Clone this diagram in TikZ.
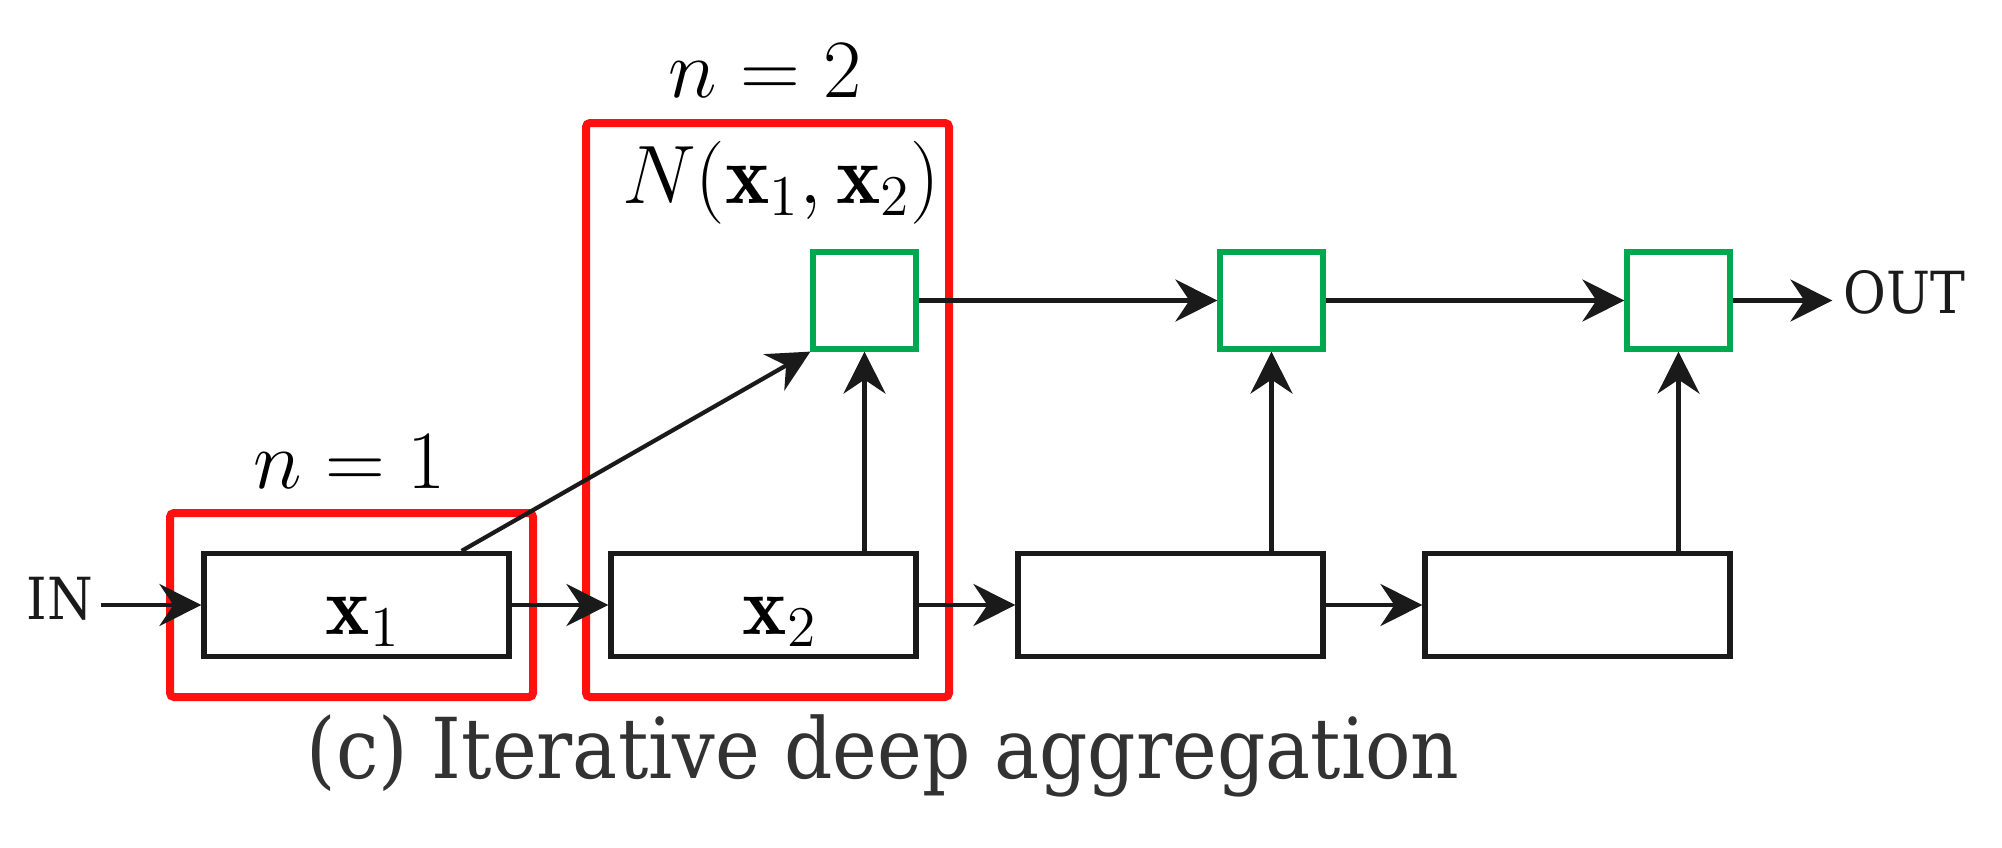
\documentclass[tikz,border=0pt]{standalone}
\usepackage{amsmath}
\usepackage{fontspec}
\newfontfamily\capfont{DejaVu Serif}
\usetikzlibrary{arrows.meta,calc}
\definecolor{redbox}{RGB}{255,17,17}
\definecolor{greenbox}{RGB}{0,168,80}
\definecolor{ink}{RGB}{26,26,26}
\definecolor{captext}{RGB}{50,50,50}
\begin{document}
\begin{tikzpicture}[x=0.25pt,y=-0.25pt,
  blk/.style={draw=ink,line width=1.3pt,minimum width=76.25pt,minimum height=25.75pt,inner sep=0pt},
  agg/.style={draw=greenbox,line width=1.3pt,minimum width=25.75pt,minimum height=24.25pt,inner sep=0pt},
  conn/.style={draw=ink,line width=1.05pt,-{Stealth[length=10.5pt,width=10.5pt,inset=3.5pt]}},
  hl/.style={draw=redbox,line width=2pt,rounded corners=1pt},
  lbl/.style={inner sep=0pt,anchor=base},
  mathlbl/.style={lbl,font=\fontsize{21pt}{25pt}\selectfont},
  serlbl/.style={lbl,font=\capfont\fontsize{14.5pt}{17pt}\selectfont,text=ink},
  ]
\useasboundingbox (0,0) rectangle (2002,847);
% bottom blocks
\node[blk] (b1) at (356.5,605) {};
\node[blk] (b2) at (763.5,605) {};
\node[blk] (b3) at (1170.5,605) {};
\node[blk] (b4) at (1577.5,605) {};
% aggregation nodes
\node[agg] (g1) at (864.5,300.5) {};
\node[agg] (g2) at (1271.5,300.5) {};
\node[agg] (g3) at (1678.5,300.5) {};
% labels
\node[mathlbl] (x1) at (363,634) {$\mathbf{x}_1$};
\node[mathlbl] (x2) at (780,634) {$\mathbf{x}_2$};
\node[mathlbl] (n1) at (350,488) {$n=1$};
\node[mathlbl] (n2) at (765,97) {$n=2$};
\node[mathlbl] (nn) at (781,203) {$N(\mathbf{x}_1,\mathbf{x}_2)$};
\node[serlbl] (in) at (60,619) {\scalebox{0.9}[1]{IN}};
\node[serlbl] (out) at (1904,313) {\scalebox{0.9}[1]{OUT}};
\node[lbl,font=\capfont\fontsize{21pt}{25pt}\selectfont,text=captext] (cap) at (883,778) {\scalebox{0.9}[1]{(c) Iterative deep aggregation}};
% red highlight frames
\draw[hl] (170,513) rectangle (533,697);
\draw[hl] (586,123) rectangle (949,697);
% connectors
\draw[conn,shorten <=1.75pt] (in.east |- b1.west) -- (b1.west);
\draw[conn] (b1.east) -- (b2.west);
\draw[conn] (b2.east) -- (b3.west);
\draw[conn] (b3.east) -- (b4.west);
\coordinate (d1) at ($(b1.north east)+(-50,0)$);
\draw[conn] (d1) -- (g1.south west);
\draw[conn] (g1.south |- b2.north) -- (g1.south);
\draw[conn] (g2.south |- b3.north) -- (g2.south);
\draw[conn] (g3.south |- b4.north) -- (g3.south);
\draw[conn] (g1.east) -- (g2.west);
\draw[conn] (g2.east) -- (g3.west);
\draw[conn,shorten >=2.5pt] (g3.east) -- (g3.east -| out.west);
\end{tikzpicture}
\end{document}
